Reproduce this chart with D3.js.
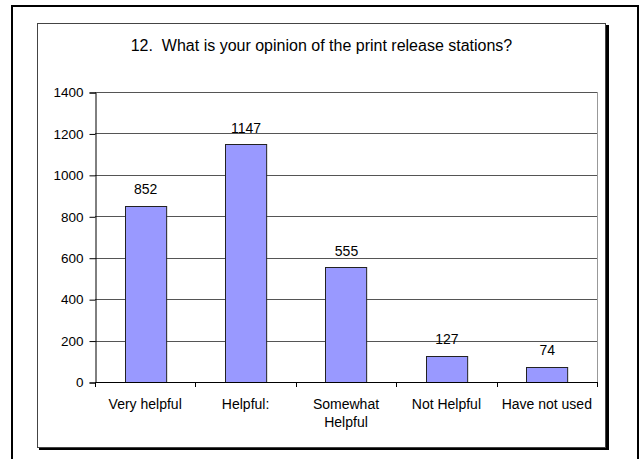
<!DOCTYPE html>
<html>
<head>
<meta charset="utf-8">
<script src="https://cdn.jsdelivr.net/npm/d3@7/dist/d3.min.js"></script>
<style>
  html, body { margin: 0; padding: 0; background: #fff; }
  svg { display: block; font-family: "Liberation Sans", Arial, sans-serif; }
</style>
</head>
<body>
<svg id="chart" width="640" height="459"></svg>
<script>
const title = "12.  What is your opinion of the print release stations?";
const categories = ["Very helpful", "Helpful:", "Somewhat Helpful", "Not Helpful", "Have not used"];
const values = [852, 1147, 555, 127, 74];
const yTicks = [0, 200, 400, 600, 800, 1000, 1200, 1400];

const svg = d3.select("#chart");

// outer page frame
svg.append("rect")
  .attr("x", 12).attr("y", 6).attr("width", 626).attr("height", 520)
  .attr("fill", "none").attr("stroke", "#000").attr("stroke-width", 2);

// chart box with shadow
svg.append("rect")
  .attr("x", 39).attr("y", 25).attr("width", 570).attr("height", 425)
  .attr("fill", "#000");
svg.append("rect")
  .attr("x", 37.5).attr("y", 23.5).attr("width", 568).attr("height", 424)
  .attr("fill", "#fff").attr("stroke", "#444").attr("stroke-width", 1);

// title
svg.append("text")
  .attr("x", 321.5).attr("y", 51)
  .attr("text-anchor", "middle")
  .attr("font-size", 16)
  .attr("fill", "#000")
  .style("white-space", "pre")
  .text(title);

const plot = { left: 95, right: 597, top: 92, bottom: 382 };

const x = d3.scaleBand()
  .domain(categories)
  .range([plot.left, plot.right])
  .paddingInner(0.59)
  .paddingOuter(0.295);

const xb = d3.scaleBand().domain(categories).range([plot.left, plot.right]);

const y = d3.scaleLinear().domain([0, 1400]).range([plot.bottom, plot.top]);

// gridlines
svg.append("g")
  .selectAll("line")
  .data(yTicks.filter(d => d > 0))
  .join("line")
  .attr("x1", plot.left).attr("x2", plot.right)
  .attr("y1", d => Math.round(y(d)) + 0.5).attr("y2", d => Math.round(y(d)) + 0.5)
  .attr("stroke", "#555").attr("stroke-width", 1);

// plot area right border
svg.append("line")
  .attr("x1", plot.right + 0.5).attr("x2", plot.right + 0.5)
  .attr("y1", plot.top).attr("y2", plot.bottom)
  .attr("stroke", "#999").attr("stroke-width", 1);

// bars
svg.append("g")
  .selectAll("rect")
  .data(values)
  .join("rect")
  .attr("x", (d, i) => Math.round(x(categories[i])) + 0.5)
  .attr("y", d => Math.round(y(d)) + 0.5)
  .attr("width", x.bandwidth())
  .attr("height", d => Math.round(y(0)) - Math.round(y(d)))
  .attr("fill", "#9999FF")
  .attr("stroke", "#222").attr("stroke-width", 1);

// data labels
svg.append("g")
  .selectAll("text")
  .data(values)
  .join("text")
  .attr("x", (d, i) => x(categories[i]) + x.bandwidth() / 2 + 0.5)
  .attr("y", d => y(d) - 11.5)
  .attr("text-anchor", "middle")
  .attr("font-size", 14)
  .attr("fill", "#000")
  .text(d => d);

// y axis
const yAxis = d3.axisLeft(y).tickValues(yTicks).tickSize(6).tickPadding(6).tickFormat(d3.format("d"));
const gy = svg.append("g")
  .attr("transform", `translate(${plot.left + 0.5},0.5)`)
  .call(yAxis);
gy.select(".domain").attr("stroke", "#000");
gy.selectAll(".tick line").attr("stroke", "#000");
gy.selectAll(".tick text")
  .attr("font-family", "Liberation Sans, Arial, sans-serif")
  .attr("font-size", 13.5).attr("fill", "#000");

// x axis
const xAxis = d3.axisBottom(xb).tickSize(0).tickPadding(0).tickFormat(() => "");
const gx = svg.append("g")
  .attr("transform", `translate(0,${Math.round(plot.bottom) + 0.5})`)
  .call(xAxis);
gx.select(".domain").attr("stroke", "#000").attr("d", `M${plot.left},0H${plot.right}`);
gx.selectAll(".tick").remove();

// category boundary ticks
const bounds = categories.map(c => xb(c)).concat([plot.right]);
svg.append("g")
  .selectAll("line")
  .data(bounds)
  .join("line")
  .attr("x1", d => Math.round(d) + 0.5).attr("x2", d => Math.round(d) + 0.5)
  .attr("y1", plot.bottom).attr("y2", plot.bottom + 5)
  .attr("stroke", "#000");

// category labels (wrapped)
const labels = svg.append("g")
  .selectAll("text")
  .data(categories)
  .join("text")
  .attr("x", d => xb(d) + xb.bandwidth() / 2)
  .attr("y", 409)
  .attr("text-anchor", "middle")
  .attr("font-size", 14)
  .attr("fill", "#000")
  .text(d => d);

labels.each(function(d) {
  const t = d3.select(this);
  if (this.getComputedTextLength() > xb.bandwidth()) {
    const words = d.split(" ");
    t.text(null);
    const cx = xb(d) + xb.bandwidth() / 2;
    const mid = Math.ceil(words.length / 2);
    [words.slice(0, mid).join(" "), words.slice(mid).join(" ")].forEach((line, i) => {
      t.append("tspan").attr("x", cx).attr("dy", i === 0 ? 0 : 18).text(line);
    });
  }
});
</script>
</body>
</html>
